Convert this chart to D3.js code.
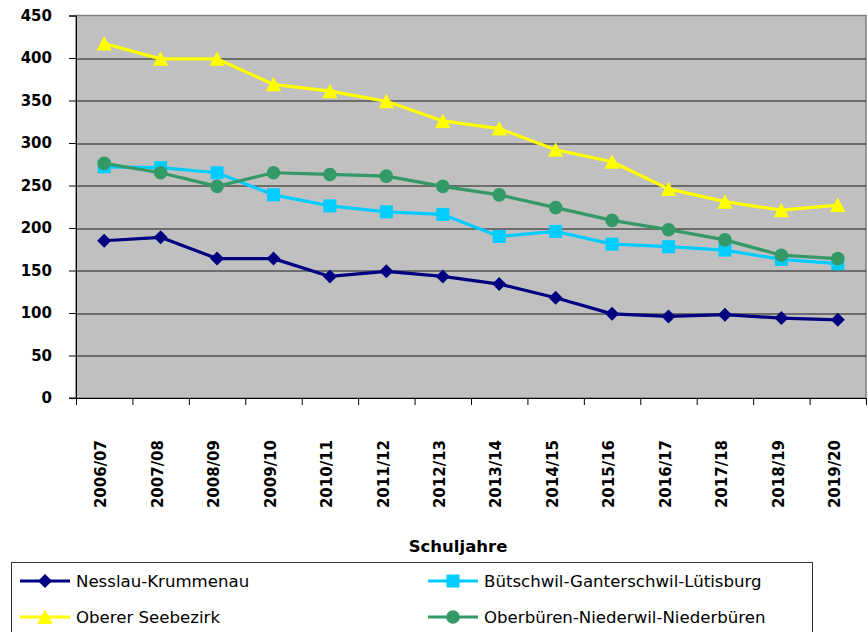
<!DOCTYPE html>
<html>
<head>
<meta charset="utf-8">
<script src="https://cdn.jsdelivr.net/npm/d3@7"></script>
<style>
  body { margin: 0; background: #fff; }
  .axis text { font-family: "DejaVu Sans", sans-serif; font-weight: bold; font-size: 15px; fill: #000; }
  .axis path, .axis line { stroke: #000; }
</style>
</head>
<body>
<div class="chart"></div>
<script>
var years = ["2006/07", "2007/08", "2008/09", "2009/10", "2010/11", "2011/12", "2012/13",
  "2013/14", "2014/15", "2015/16", "2016/17", "2017/18", "2018/19", "2019/20"];

var nesslau = [185, 189, 164, 164, 143, 149, 143, 134, 118, 99, 96, 98, 94, 92];
var buetschwil = [272, 271, 265, 239, 226, 219, 216, 190, 196, 181, 178, 174, 163, 158];
var oberer = [417, 399, 399, 369, 361, 349, 326, 317, 292, 278, 246, 231, 221, 227];
var oberbueren = [276, 265, 249, 265, 263, 261, 249, 239, 224, 209, 198, 186, 168, 164];

var yTicks = [0, 50, 100, 150, 200, 250, 300, 350, 400, 450];

var seriesNames = ["Nesslau-Krummenau", "Bütschwil-Ganterschwil-Lütisburg",
  "Oberer Seebezirk", "Oberbüren-Niederwil-Niederbüren"];

var series = [
  { name: seriesNames[0], values: nesslau, color: "#000080", marker: "diamond" },
  { name: seriesNames[1], values: buetschwil, color: "#00CCFF", marker: "square" },
  { name: seriesNames[2], values: oberer, color: "#FFFF00", marker: "triangle" },
  { name: seriesNames[3], values: oberbueren, color: "#339966", marker: "circle" }
];

var svgWidth = 868;
var svgHeight = 632;

var margin = { top: 15.5, right: 2, bottom: 234, left: 76 };
var width = svgWidth - margin.left - margin.right;
var height = svgHeight - margin.top - margin.bottom;

var svg = d3.select(".chart")
  .append("svg")
  .attr("width", svgWidth)
  .attr("height", svgHeight);

var chartGroup = svg.append("g")
  .attr("transform", `translate(${margin.left}, ${margin.top})`);

var xBand = d3.scaleBand()
  .domain(years)
  .range([0, width]);

var xEdge = d3.scaleLinear()
  .domain([0, years.length])
  .range([0, width]);

var yLinearScale = d3.scaleLinear()
  .domain([0, 450])
  .range([height, 0]);

// plot background
chartGroup.append("rect")
  .attr("width", width)
  .attr("height", height)
  .attr("fill", "#C0C0C0")
  .attr("stroke", "#808080")
  .attr("stroke-width", 1.5);

// gridlines
chartGroup.append("g")
  .selectAll("line")
  .data(yTicks.filter(d => d > 0 && d < 450))
  .enter()
  .append("line")
  .attr("x1", 0)
  .attr("x2", width)
  .attr("y1", d => Math.round(yLinearScale(d)) + 0.5)
  .attr("y2", d => Math.round(yLinearScale(d)) + 0.5)
  .attr("stroke", "#1a1a1a")
  .attr("stroke-width", 1.2);

var leftAxis = d3.axisLeft(yLinearScale)
  .tickValues(yTicks)
  .tickSize(7)
  .tickPadding(17);

chartGroup.append("g")
  .attr("class", "axis")
  .call(leftAxis)
  .call(g => g.select(".domain").attr("d", `M-7,0.5H0.5V${height}H-7`));

var bottomAxis = d3.axisBottom(xEdge)
  .tickValues(d3.range(years.length + 1))
  .tickSize(7)
  .tickFormat("");

chartGroup.append("g")
  .attr("class", "axis")
  .attr("transform", `translate(0, ${height})`)
  .call(bottomAxis)
  .call(g => g.select(".domain").attr("d", `M0,0.5H${width}`));

// rotated year labels
chartGroup.append("g")
  .attr("class", "axis")
  .selectAll("text")
  .data(years)
  .enter()
  .append("text")
  .attr("transform", d => `translate(${xBand(d) + xBand.bandwidth() / 2}, ${height + 42}) rotate(-90)`)
  .attr("dy", "0.15em")
  .style("text-anchor", "end")
  .text(d => d);

function markerPath(type) {
  var p = d3.path();
  if (type === "diamond") {
    p.moveTo(0, -7); p.lineTo(7, 0); p.lineTo(0, 7); p.lineTo(-7, 0); p.closePath();
  } else if (type === "square") {
    p.rect(-6.5, -6.5, 13, 13);
  } else if (type === "triangle") {
    p.moveTo(0, -7.5); p.lineTo(7.7, 7); p.lineTo(-7.7, 7); p.closePath();
  } else {
    p.arc(0, 0, 6.8, 0, 2 * Math.PI);
  }
  return p.toString();
}

var line = d3.line()
  .x((d, i) => xBand(years[i]) + xBand.bandwidth() / 2)
  .y(d => yLinearScale(d));

series.forEach(function(s) {
  var g = chartGroup.append("g");
  g.append("path")
    .attr("d", line(s.values))
    .attr("fill", "none")
    .attr("stroke", s.color)
    .attr("stroke-width", 3.2)
    .attr("stroke-linejoin", "round");
  g.selectAll(".marker")
    .data(s.values)
    .enter()
    .append("path")
    .attr("class", "marker")
    .attr("d", markerPath(s.marker))
    .attr("transform", (d, i) => `translate(${xBand(years[i]) + xBand.bandwidth() / 2}, ${yLinearScale(d)})`)
    .attr("fill", s.color);
});

// x axis title
svg.append("text")
  .attr("x", 458)
  .attr("y", 552)
  .style("text-anchor", "middle")
  .style("font-family", "DejaVu Sans, sans-serif")
  .style("font-weight", "bold")
  .style("font-size", "16.5px")
  .text("Schuljahre");

// legend
var legend = svg.append("g");
legend.append("rect")
  .attr("x", 11.5)
  .attr("y", 562.5)
  .attr("width", 801)
  .attr("height", 80)
  .attr("fill", "#fff")
  .attr("stroke", "#333")
  .attr("stroke-width", 1);

var legendPos = [[20, 581], [428, 581], [20, 617], [428, 617]];

series.forEach(function(s, i) {
  var x = legendPos[i][0], y = legendPos[i][1];
  var item = legend.append("g").attr("transform", `translate(${x}, ${y})`);
  item.append("line")
    .attr("x1", 0).attr("x2", 50)
    .attr("stroke", s.color)
    .attr("stroke-width", 3.2);
  item.append("path")
    .attr("d", markerPath(s.marker))
    .attr("transform", "translate(25, 0)")
    .attr("fill", s.color);
  item.append("text")
    .attr("x", 56)
    .attr("dy", "0.36em")
    .style("font-family", "DejaVu Sans, sans-serif")
    .style("font-size", "16.6px")
    .text(s.name);
});
</script>
</body>
</html>
